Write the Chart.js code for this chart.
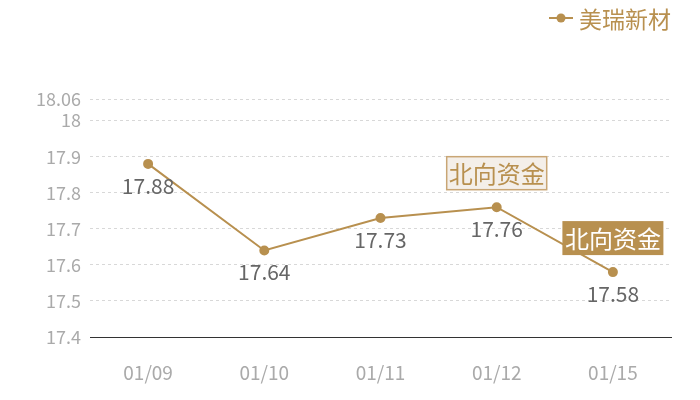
<!DOCTYPE html>
<html><head><meta charset="utf-8">
<script src="https://cdn.jsdelivr.net/npm/chart.js@4/dist/chart.umd.min.js"></script>
<style>html,body{margin:0;padding:0;background:#fff}#wrap{width:700px;height:400px}</style>
</head><body><div id="wrap"><canvas id="c" width="700" height="400"></canvas></div>
<script>
const categories = ['01/09','01/10','01/11','01/12','01/15'];
const seriesName = '美瑞新材';
const values = [17.88, 17.64, 17.73, 17.76, 17.58];
const yTicks = [17.4, 17.5, 17.6, 17.7, 17.8, 17.9, 18, 18.06];
const annotationIndex = [3, 4];
const annotationText = '北向资金';

const FONT = '"Noto Sans CJK SC", "Noto Sans", sans-serif';
const GOLD = '#b8904f';

const overlay = {
  id: 'overlay',
  afterDatasetsDraw(chart) {
    const ctx = chart.ctx;
    const meta = chart.getDatasetMeta(0);
    ctx.save();
    // data labels
    ctx.font = '21px ' + FONT;
    ctx.fillStyle = '#666';
    ctx.textAlign = 'center';
    ctx.textBaseline = 'middle';
    meta.data.forEach((p, i) => {
      ctx.fillText(String(values[i]), p.x, p.y + 22);
    });
    // annotation boxes
    ctx.font = '24px ' + FONT;
    annotationIndex.forEach((idx, k) => {
      const p = meta.data[idx];
      const w = 101, h = 34;
      const x = p.x - w / 2, y = p.y - 17 - h;
      if (k === 0) {
        ctx.fillStyle = '#f4efe9';
        ctx.fillRect(x, y, w, h);
        ctx.strokeStyle = '#c9a675';
        ctx.lineWidth = 1.5;
        ctx.strokeRect(x + 0.5, y + 0.5, w - 1, h - 1);
        ctx.fillStyle = GOLD;
      } else {
        ctx.fillStyle = GOLD;
        ctx.fillRect(x, y, w, h);
        ctx.fillStyle = '#fff';
      }
      ctx.fillText(annotationText, p.x, y + h / 2 + 1);
    });
    // legend
    const ly = 18;
    ctx.strokeStyle = GOLD;
    ctx.lineWidth = 2;
    ctx.beginPath(); ctx.moveTo(549, ly); ctx.lineTo(573, ly); ctx.stroke();
    ctx.fillStyle = GOLD;
    ctx.beginPath(); ctx.arc(561, ly, 4.5, 0, Math.PI * 2); ctx.fill();
    ctx.font = '23px ' + FONT;
    ctx.textAlign = 'left';
    ctx.fillText(seriesName, 579, ly + 1);
    ctx.restore();
  }
};

new Chart(document.getElementById('c'), {
  type: 'line',
  data: {
    labels: categories,
    datasets: [{
      label: seriesName,
      data: values,
      borderColor: GOLD,
      backgroundColor: GOLD,
      borderWidth: 2,
      pointRadius: 4,
      pointHoverRadius: 4,
      tension: 0
    }]
  },
  options: {
    responsive: false,
    animation: false,
    devicePixelRatio: 1,
    layout: { padding: { top: 99, right: 29, left: 0, bottom: 0 } },
    plugins: { legend: { display: false }, tooltip: { enabled: false } },
    scales: {
      x: {
        offset: true,
        grid: { display: false, drawTicks: false },
        border: { display: true, color: '#333', width: 1 },
        ticks: { color: '#aaa', font: { size: 19, family: FONT }, padding: 24 },
        afterFit(s) { s.height = 63; }
      },
      y: {
        min: 17.4, max: 18.06,
        afterBuildTicks(s) { s.ticks = yTicks.map(v => ({ value: v })); },
        grid: { color: '#d8d8d8', drawTicks: false, lineWidth: 1 },
        border: { display: false, dash: [3, 3] },
        ticks: {
          color: '#aaa', font: { size: 18, family: FONT }, padding: 9,
          callback: v => String(Number(v.toFixed(2)))
        },
        afterFit(s) { s.width = 90; }
      }
    }
  },
  plugins: [overlay]
});
</script></body></html>
